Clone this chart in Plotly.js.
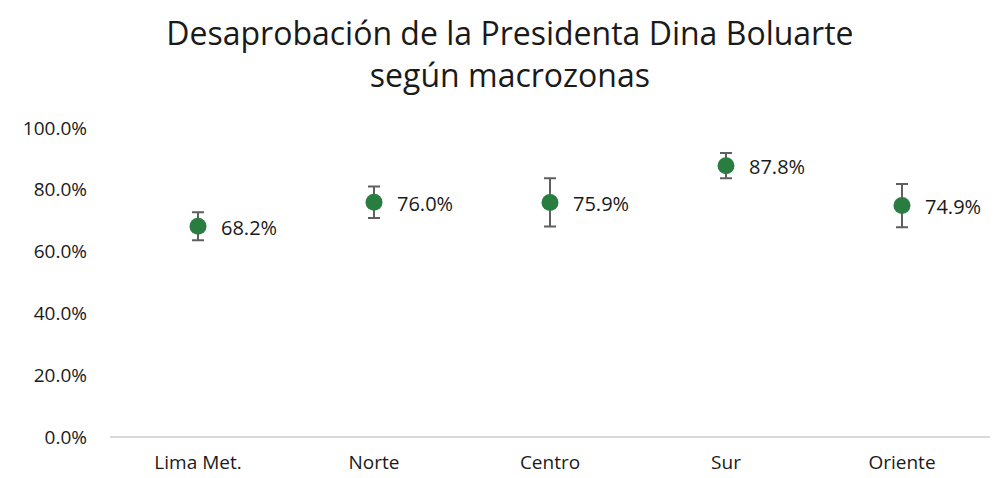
<!DOCTYPE html>
<html><head><meta charset="utf-8">
<script src="https://cdn.plot.ly/plotly-3.0.1.min.js"></script>
<style>html,body{margin:0;padding:0;background:#fff}#chart{width:994px;height:478px}</style>
</head><body><div id="chart"></div>
<script>
var categories = ["Lima Met.", "Norte", "Centro", "Sur", "Oriente"];
var values = [68.2, 76.0, 75.9, 87.8, 74.9];
var errors = [4.5, 5.1, 7.8, 4.1, 7.0];
var labels = values.map(function(v){ return v.toFixed(1) + "%"; });
var yTicks = [0, 20, 40, 60, 80, 100];
var yTickText = yTicks.map(function(v){ return v.toFixed(1) + "%"; });

var FONT = "Open Sans, Lato, sans-serif";
var trace = {
  type: "scatter",
  mode: "markers",
  x: categories,
  y: values,
  marker: {color: "#2a7d40", size: 17},
  error_y: {type: "data", array: errors, visible: true, color: "#5f5f5f", thickness: 2, width: 6},
  hoverinfo: "none",
  cliponaxis: false
};
var annotations = categories.map(function(c, i){
  return {x: c, y: values[i], xref: "x", yref: "y", text: labels[i], showarrow: false,
          xanchor: "left", yanchor: "middle", xshift: 21, yshift: -1,
          font: {family: FONT, size: 20, color: "#1a1a1a"}};
});
var layout = {
  width: 994, height: 478,
  margin: {l: 110, r: 4, t: 128, b: 41},
  paper_bgcolor: "#fff", plot_bgcolor: "#fff",
  showlegend: false,
  annotations: annotations,
  title: {text: "Desaprobación de la Presidenta Dina Boluarte<br>según macrozonas",
          font: {family: FONT, size: 32, color: "#1a1a1a"},
          x: 0.513, xanchor: "center", y: 0.905, yanchor: "top"},
  xaxis: {type: "category", showgrid: false, zeroline: false, showline: false,
          tickfont: {family: FONT, size: 19, color: "#1a1a1a"}, ticks: "", ticklabelstandoff: 12,
          range: [-0.5, 4.5], fixedrange: true},
  yaxis: {range: [0, 100], tickvals: yTicks, ticktext: yTickText, showgrid: false,
          zeroline: true, zerolinecolor: "#d9d9d9", zerolinewidth: 1.5, showline: false,
          tickfont: {family: FONT, size: 19, color: "#1a1a1a"}, ticks: "", ticklabelstandoff: 22,
          fixedrange: true}
};
Plotly.newPlot("chart", [trace], layout, {displayModeBar: false, staticPlot: true});
</script></body></html>
